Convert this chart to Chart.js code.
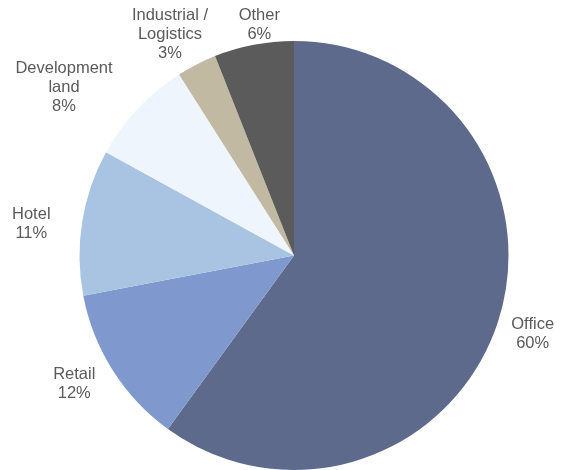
<!DOCTYPE html>
<html>
<head>
<meta charset="utf-8">
<script src="https://cdn.jsdelivr.net/npm/chart.js@4/dist/chart.umd.min.js"></script>
<style>
  html, body { margin: 0; padding: 0; background: #ffffff; overflow: hidden; }
  canvas { display: block; }
</style>
</head>
<body>
<canvas id="pie" width="563" height="470"></canvas>
<script>
// Portfolio split by sector (percent)
const categories = ['Office', 'Retail', 'Hotel', 'Development land', 'Industrial / Logistics', 'Other'];
const shares = [60, 12, 11, 8, 3, 6];
// Label text lines for each slice
const labelLines = [
  ['Office'],
  ['Retail'],
  ['Hotel'],
  ['Development', 'land'],
  ['Industrial /', 'Logistics'],
  ['Other']
];
const sliceColors = ['#5e6a8b', '#7f98cd', '#a9c4e2', '#eef5fd', '#c1b9a2', '#5b5b5b'];

// Small hand adjustments for where each label sits next to its slice
const labelNudge = [[1, 2], [-9, -4], [-18, 7], [-28, 8], [-3, 8], [12, 13]];

const outsideLabels = {
  id: 'outsideLabels',
  afterDatasetsDraw(chart) {
    const ctx = chart.ctx;
    const arcs = chart.getDatasetMeta(0).data;
    const fontSize = 16.5;
    const lineH = 19;
    ctx.save();
    ctx.font = fontSize + 'px "Liberation Sans", Arial, sans-serif';
    ctx.fillStyle = '#5a5a5a';
    ctx.textAlign = 'center';
    ctx.textBaseline = 'middle';
    arcs.forEach((arc, i) => {
      const p = arc.getProps(['x', 'y', 'startAngle', 'endAngle', 'outerRadius'], true);
      const mid = (p.startAngle + p.endAngle) / 2;
      const ux = Math.cos(mid), uy = Math.sin(mid);
      const lines = labelLines[i].concat([shares[i] + '%']);
      const w = Math.max(...lines.map(t => ctx.measureText(t).width));
      const h = lines.length * lineH;
      const ax = p.x + (p.outerRadius + 14) * ux;
      const ay = p.y + (p.outerRadius + 14) * uy;
      const cx = ax + (w / 2) * ux + labelNudge[i][0];
      const cy = ay + (h / 2) * uy + labelNudge[i][1];
      lines.forEach((t, k) => {
        ctx.fillText(t, cx, cy - h / 2 + lineH / 2 + k * lineH);
      });
    });
    ctx.restore();
  }
};

new Chart(document.getElementById('pie'), {
  type: 'pie',
  data: {
    labels: categories,
    datasets: [{
      data: shares,
      backgroundColor: sliceColors,
      borderWidth: 0
    }]
  },
  options: {
    responsive: false,
    animation: false,
    layout: { padding: { top: 41, bottom: 0, left: 79, right: 54 } },
    plugins: {
      legend: { display: false },
      tooltip: { enabled: false }
    }
  },
  plugins: [outsideLabels]
});
</script>
</body>
</html>
